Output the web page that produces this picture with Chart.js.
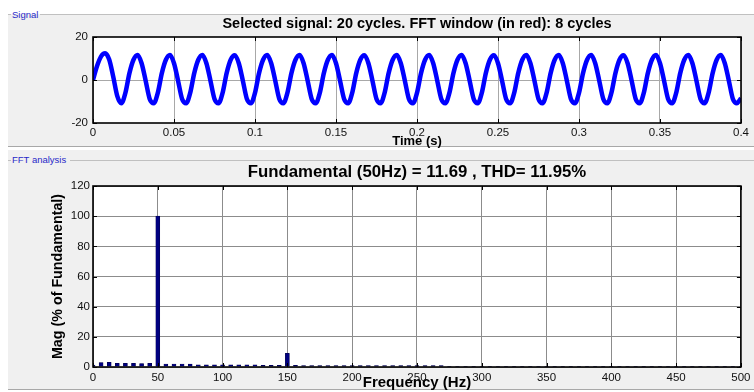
<!DOCTYPE html>
<html><head><meta charset="utf-8">
<script src="https://cdn.jsdelivr.net/npm/chart.js@4.4.1/dist/chart.umd.min.js"></script>
<style>
html,body{margin:0;padding:0;background:#fff;width:754px;height:392px;overflow:hidden;font-family:"Liberation Sans",Arial,sans-serif;}
.panel{position:absolute;background:#f0f0f0}
#p1{left:8px;top:14px;width:746px;height:132px;border-bottom:1px solid #a8a8a8}
#p2{left:8px;top:150px;width:746px;height:239px;border-bottom:1px solid #a8a8a8}
.hline{position:absolute;height:0;border-top:1px solid #c0c0c0}
.lab{position:absolute;font-size:9.5px;color:#2828c8;line-height:11px;white-space:nowrap}
.ttl{position:absolute;left:93px;width:648px;text-align:center;font-weight:bold;color:#000;white-space:nowrap}
#t1{top:15px;font-size:14.5px;line-height:16px}
#t2{top:162px;font-size:16.8px;line-height:20px}
canvas{position:absolute;left:0}
#c1{top:0}
#c2{top:160px}
</style></head>
<body>
<div class="panel" id="p1"></div>
<div class="panel" id="p2"></div>
<div class="hline" style="left:8px;top:14px;width:3px"></div>
<div class="hline" style="left:40px;top:14px;width:714px"></div>
<div class="lab" style="left:12px;top:9px">Signal</div>
<div class="hline" style="left:8px;top:160px;width:3px"></div>
<div class="hline" style="left:70px;top:160px;width:684px"></div>
<div class="lab" style="left:12px;top:154px">FFT analysis</div>
<canvas id="c1" width="754" height="150"></canvas>
<canvas id="c2" width="754" height="232"></canvas>
<div class="ttl" id="t1">Selected signal: 20 cycles. FFT window (in red): 8 cycles</div>
<div class="ttl" id="t2">Fundamental (50Hz) = 11.69 , THD= 11.95%</div>
<script>
// ---------- data ----------
const sigTimes = [
0,0.0025,0.005,0.0075,0.01,0.0125,0.015,0.0175,
0.02,0.0225,0.025,0.0275,0.03,0.0325,0.035,0.0375,
0.04,0.0425,0.045,0.0475,0.05,0.0525,0.055,0.0575,
0.06,0.0625,0.065,0.0675,0.07,0.0725,0.075,0.0775,
0.08,0.0825,0.085,0.0875,0.09,0.0925,0.095,0.0975,
0.1,0.1025,0.105,0.1075,0.11,0.1125,0.115,0.1175,
0.12,0.1225,0.125,0.1275,0.13,0.1325,0.135,0.1375,
0.14,0.1425,0.145,0.1475,0.15,0.1525,0.155,0.1575,
0.16,0.1625,0.165,0.1675,0.17,0.1725,0.175,0.1775,
0.18,0.1825,0.185,0.1875,0.19,0.1925,0.195,0.1975,
0.2,0.2025,0.205,0.2075,0.21,0.2125,0.215,0.2175,
0.22,0.2225,0.225,0.2275,0.23,0.2325,0.235,0.2375,
0.24,0.2425,0.245,0.2475,0.25,0.2525,0.255,0.2575,
0.26,0.2625,0.265,0.2675,0.27,0.2725,0.275,0.2775,
0.28,0.2825,0.285,0.2875,0.29,0.2925,0.295,0.2975,
0.3,0.3025,0.305,0.3075,0.31,0.3125,0.315,0.3175,
0.32,0.3225,0.325,0.3275,0.33,0.3325,0.335,0.3375,
0.34,0.3425,0.345,0.3475,0.35,0.3525,0.355,0.3575,
0.36,0.3625,0.365,0.3675,0.37,0.3725,0.375,0.3775,
0.38,0.3825,0.385,0.3875,0.39,0.3925,0.395,0.3975,
0.4];
const sigValues = [
0,6.5,11.0,12.4,9.5,1.5,-7.5,-10.8,
-6.0,3.2,9.4,11.6,7.8,-0.3,-8.8,-10.8,
-6.0,3.2,9.4,11.6,7.8,-0.3,-8.8,-10.8,
-6.0,3.2,9.4,11.6,7.8,-0.3,-8.8,-10.8,
-6.0,3.2,9.4,11.5,7.8,-0.3,-8.8,-10.8,
-6.0,3.2,9.4,11.6,7.8,-0.3,-8.8,-10.8,
-6.0,3.2,9.4,11.6,7.8,-0.3,-8.8,-10.8,
-6.0,3.2,9.4,11.6,7.8,-0.3,-8.8,-10.8,
-6.0,3.2,9.4,11.5,7.8,-0.3,-8.8,-10.8,
-6.0,3.2,9.4,11.6,7.8,-0.3,-8.8,-10.8,
-6.0,3.2,9.4,11.6,7.8,-0.3,-8.8,-10.8,
-6.0,3.2,9.4,11.6,7.8,-0.3,-8.8,-10.8,
-6.0,3.2,9.4,11.5,7.8,-0.3,-8.8,-10.8,
-6.0,3.2,9.4,11.6,7.8,-0.3,-8.8,-10.8,
-6.0,3.2,9.4,11.6,7.8,-0.3,-8.8,-10.8,
-6.0,3.2,9.4,11.6,7.8,-0.3,-8.8,-10.8,
-6.0,3.2,9.4,11.5,7.8,-0.3,-8.8,-10.8,
-6.0,3.2,9.4,11.6,7.8,-0.3,-8.8,-10.8,
-6.0,3.2,9.4,11.6,7.8,-0.3,-8.8,-10.8,
-6.0,3.2,9.4,11.6,7.8,-0.3,-8.8,-10.8,
-8.5];
const timeTicks = [0,0.05,0.1,0.15,0.2,0.25,0.3,0.35,0.4];
const timeTickLabels = ['0','0.05','0.1','0.15','0.2','0.25','0.3','0.35','0.4'];
const signalTicks = [-20,0,20];
const signalTickLabels = ['-20','0','20'];

const fftFreqs = [
0,6.25,12.5,18.75,25,31.25,37.5,43.75,50,56.25,62.5,68.75,75,81.25,87.5,93.75,
100,106.25,112.5,118.75,125,131.25,137.5,143.75,150,156.25,162.5,168.75,175,181.25,187.5,193.75,
200,206.25,212.5,218.75,225,231.25,237.5,243.75,250,256.25,262.5,268.75,275,281.25,287.5,293.75,
300,306.25,312.5,318.75,325,331.25,337.5,343.75,350,356.25,362.5,368.75,375,381.25,387.5,393.75,
400,406.25,412.5,418.75,425,431.25,437.5,443.75,450,456.25,462.5,468.75,475,481.25,487.5,493.75,
500];
const fftMags = [
1.3,3.0,3.1,2.4,2.4,2.4,2.3,2.4,
100,
2.0,2.0,2.0,1.9,
1.5,1.5,1.5,1.5,1.5,1.5,1.5,1.4,
1.1,1.1,1.1,
9.0,
1.1,1.0,1.0,1.0,1.0,1.0,1.0,1.0,1.0,1.0,1.0,1.0,1.0,1.0,1.0,0.9,0.9,0.9,0.9,
0.5,0.5,0.5,0.5,0.5,0.5,0.5,0.5,0.5,0.5,0.5,0.5,0.5,0.5,0.5,0.5,0.5,0.5,0.5,
0.5,0.5,0.5,0.5,0.5,0.5,0.5,0.5,0.5,0.5,0.5,0.5,0.5,0.5,0.5,0.5,0.5,0.5];
const freqTicks = [0,50,100,150,200,250,300,350,400,450,500];
const freqTickLabels = ['0','50','100','150','200','250','300','350','400','450','500'];
const magTicks = [0,20,40,60,80,100,120];
const magTickLabels = ['0','20','40','60','80','100','120'];

// ---------- drawing ----------
const F = '"Liberation Sans", Arial, Helvetica, sans-serif';
const framePlugin = {
  id: 'frame',
  beforeDraw(chart) {
    const {ctx, chartArea: a} = chart;
    ctx.save(); ctx.fillStyle = '#ffffff';
    ctx.fillRect(a.left, a.top, a.right - a.left, a.bottom - a.top);
    ctx.restore();
  },
  afterDraw(chart) {
    const {ctx, chartArea: a, scales} = chart;
    ctx.save();
    ctx.strokeStyle = '#000'; ctx.lineWidth = 1;
    ctx.beginPath();
    scales.x.ticks.forEach(t => {
      const px = Math.round(scales.x.getPixelForValue(t.value)) + 0.5;
      ctx.moveTo(px, a.top); ctx.lineTo(px, a.top + 4);
      ctx.moveTo(px, a.bottom); ctx.lineTo(px, a.bottom - 4);
    });
    scales.y.ticks.forEach(t => {
      const py = Math.round(scales.y.getPixelForValue(t.value)) + 0.5;
      ctx.moveTo(a.left, py); ctx.lineTo(a.left + 4, py);
      ctx.moveTo(a.right, py); ctx.lineTo(a.right - 4, py);
    });
    ctx.stroke();
    ctx.lineWidth = 1.6;
    ctx.strokeRect(a.left, a.top, a.right - a.left, a.bottom - a.top);
    ctx.restore();
  }
};
const setTicks = arr => s => { s.ticks = arr.map(v => ({value: v})); };

new Chart(document.getElementById('c1'), {
  type: 'line',
  data: { datasets: [{
    data: sigTimes.map((t, i) => ({x: t, y: sigValues[i]})),
    borderColor: '#0000ff', borderWidth: 4.5, pointRadius: 0,
    cubicInterpolationMode: 'monotone', fill: false
  }]},
  options: {
    responsive: false, animation: false, devicePixelRatio: 1,
    layout: { padding: {left: 0, right: 13, top: 37, bottom: 0} },
    plugins: { legend: {display: false}, tooltip: {enabled: false}, title: {display: false} },
    scales: {
      x: { type: 'linear', min: 0, max: 0.4,
        afterBuildTicks: setTicks(timeTicks),
        afterFit: s => { s.height = 27; },
        ticks: { callback: (v, i) => timeTickLabels[i], color: '#111', font: {family: F, size: 11.5}, padding: 2.5, maxRotation: 0, autoSkip: false },
        grid: { color: '#a8a8a8', drawTicks: false, lineWidth: 1 },
        border: { display: false },
        title: { display: true, text: 'Time (s)', color: '#000', font: {family: F, size: 13, weight: 'bold'}, padding: {top: 0, bottom: 0.4} }
      },
      y: { type: 'linear', min: -20, max: 20,
        afterBuildTicks: setTicks(signalTicks),
        afterFit: s => { s.width = 93; },
        ticks: { callback: (v, i) => signalTickLabels[i], color: '#111', font: {family: F, size: 11.5}, padding: 5 },
        grid: { color: c => (c.tick && c.tick.value === 0) ? '#a8a8a8' : 'rgba(0,0,0,0)', drawTicks: false },
        border: { display: false }
      }
    }
  },
  plugins: [framePlugin]
});

new Chart(document.getElementById('c2'), {
  type: 'bar',
  data: { datasets: [{
    data: fftFreqs.map((f, i) => ({x: f, y: fftMags[i]})),
    backgroundColor: '#000080', borderColor: '#000040', borderWidth: 0.5,
    barThickness: 4
  }]},
  options: {
    responsive: false, animation: false, devicePixelRatio: 1,
    layout: { padding: {left: 0, right: 13, top: 26, bottom: 0} },
    plugins: { legend: {display: false}, tooltip: {enabled: false}, title: {display: false} },
    scales: {
      x: { type: 'linear', min: 0, max: 500, offset: false,
        afterBuildTicks: setTicks(freqTicks),
        afterFit: s => { s.height = 25; },
        ticks: { callback: (v, i) => freqTickLabels[i], color: '#111', font: {family: F, size: 11.5}, padding: 3.5, maxRotation: 0, autoSkip: false },
        grid: { color: '#8c8c8c', drawTicks: false, lineWidth: 1, offset: false },
        border: { display: false },
        title: { display: true, text: 'Frequency (Hz)', color: '#000', font: {family: F, size: 15, weight: 'bold'}, padding: {top: 0, bottom: 0} }
      },
      y: { type: 'linear', min: 0, max: 120,
        afterBuildTicks: setTicks(magTicks),
        afterFit: s => { s.width = 93; },
        ticks: { callback: (v, i) => magTickLabels[i], color: '#111', font: {family: F, size: 11.5}, padding: 3 },
        grid: { color: '#8c8c8c', drawTicks: false },
        border: { display: false },
        title: { display: true, text: 'Mag (% of Fundamental)', color: '#000', font: {family: F, size: 14.3, weight: 'bold'}, padding: {top: 49, bottom: 0} }
      }
    }
  },
  plugins: [framePlugin]
});
</script>
</body></html>
